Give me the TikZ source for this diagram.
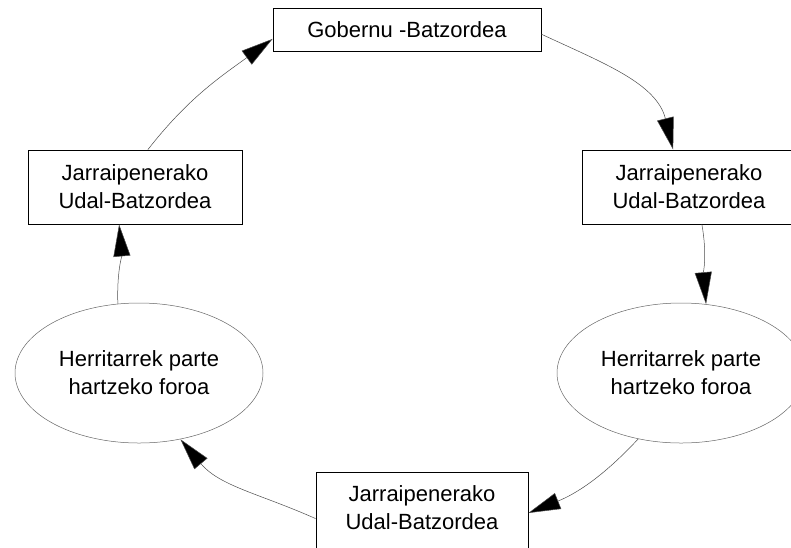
\documentclass[tikz,border=0pt]{standalone}
\usepackage{fontspec}
\setmainfont{Liberation Sans}
\usetikzlibrary{arrows.meta,shapes.geometric}
\begin{document}
\begin{tikzpicture}[x=1pt,y=1pt,
  every node/.style={font=\fontsize{22pt}{28pt}\selectfont, align=center, inner sep=0pt},
  boxnode/.style={draw=black, line width=0.8pt, rectangle, minimum width=214pt, minimum height=74pt},
  ellnode/.style={draw=gray!80!black, line width=0.5pt, ellipse, minimum width=248pt, minimum height=140pt},
  conn/.style={draw=gray!60!black, line width=0.5pt, -{Triangle[length=32pt,width=17pt,fill=black]}}
]
\useasboundingbox (0,0) rectangle (791,-547);
\clip (0,0) rectangle (791,-547);
\node[boxnode, minimum width=268pt, minimum height=43pt] (top) at (407,-29.5) {Gobernu -Batzordea};
\node[boxnode] (lbox) at (135,-187) {Jarraipenerako\\Udal-Batzordea};
\node[boxnode] (rbox) at (689,-187) {Jarraipenerako\\Udal-Batzordea};
\node[ellnode] (lell) at (139,-373) {Herritarrek parte\\hartzeko foroa};
\node[ellnode] (rell) at (681,-373) {Herritarrek parte\\hartzeko foroa};
\node[boxnode, minimum width=212pt, minimum height=82pt] (bbox) at (422,-513) {};
\node (btext) at (422,-508) {Jarraipenerako\\Udal-Batzordea};

\draw[conn] (lbox.71) to[out=52,in=216] (top.184);
\draw[conn] (top.-2) to[out=-25,in=104] (rbox.113);
\draw[conn] (rbox.-71) to[out=-80,in=95] (rell.70);
\draw[conn] (rell.237) to[out=-133,in=22] (bbox.0);
\draw[conn] (bbox.183) to[out=156,in=-50] (lell.302);
\draw[conn] (lell.107) to[out=92,in=-85] (lbox.247);
\end{tikzpicture}
\end{document}
